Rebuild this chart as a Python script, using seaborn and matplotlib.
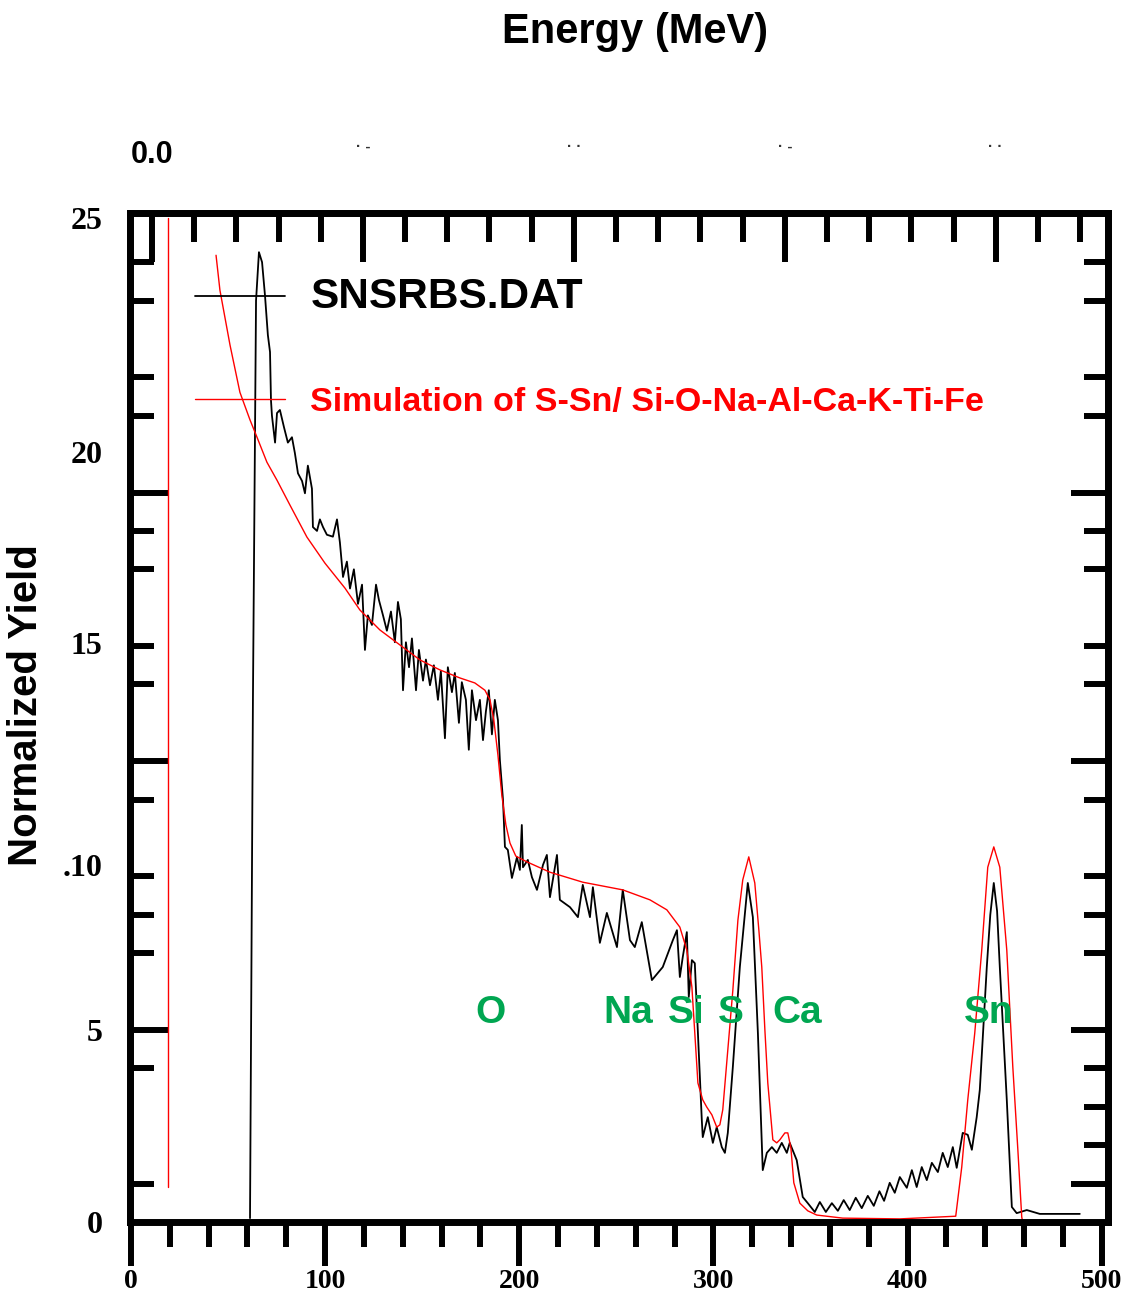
"""
RBS spectrum: measured SNSRBS.DAT vs simulation
"""
import matplotlib
matplotlib.use("Agg")
import matplotlib.pyplot as plt
import seaborn as sns
import pandas as pd

# measured spectrum (channel, normalized yield)
measured = [
    (61.3, 0.1), (62.8, 13.6), (64.4, 24.0), (65.9, 25.26), (67.5, 25.0), (69.0, 24.14),
    (70.5, 23.1), (71.6, 22.66), (72.1, 21.4), (72.6, 21.0), (74.2, 20.3), (75.2, 21.07),
    (76.7, 21.15), (78.8, 20.7), (80.8, 20.3), (82.9, 20.44), (84.4, 20.03), (86.0, 19.5),
    (88.1, 19.3), (89.6, 18.98), (91.1, 19.7), (93.2, 19.1), (93.7, 18.1), (95.8, 18.0),
    (97.3, 18.3), (98.9, 18.1), (100.9, 17.9), (104.0, 17.85), (106.1, 18.3), (107.6, 17.7),
    (109.2, 16.8), (111.2, 17.2), (112.8, 16.5), (114.8, 17.0), (116.9, 16.1), (119.0, 16.6),
    (120.5, 14.9), (122.0, 15.8), (124.1, 15.55), (126.2, 16.6), (127.7, 16.2), (129.8, 15.8),
    (131.8, 15.4), (133.9, 15.9), (135.9, 15.1), (137.5, 16.15), (139.0, 15.7), (140.1, 13.85),
    (141.6, 15.1), (143.2, 14.45), (144.7, 15.2), (146.8, 13.85), (148.3, 14.9), (150.4, 14.1),
    (151.9, 14.65), (154.0, 13.98), (156.0, 14.5), (158.1, 13.6), (159.6, 14.35), (161.7, 12.6),
    (163.2, 14.45), (165.3, 13.8), (166.8, 14.3), (168.9, 13.0), (170.4, 14.06), (172.5, 13.6),
    (174.0, 12.3), (175.6, 13.85), (177.7, 13.07), (179.7, 13.6), (181.3, 12.55), (182.8, 13.3),
    (184.3, 13.85), (185.9, 12.7), (187.4, 13.6), (189.0, 13.07), (190.0, 12.03), (191.6, 11.0),
    (192.6, 9.77), (194.1, 9.69), (196.2, 8.96), (198.8, 9.5), (200.3, 9.17), (201.3, 10.34),
    (201.9, 9.24), (204.4, 9.43), (206.5, 8.98), (209.1, 8.65), (212.2, 9.3), (214.2, 9.56),
    (215.8, 8.46), (219.4, 9.56), (220.9, 8.39), (226.1, 8.2), (230.2, 7.94), (232.7, 8.78),
    (236.4, 7.94), (237.9, 8.72), (241.5, 7.27), (245.1, 8.05), (250.3, 7.16), (253.3, 8.65),
    (257.0, 7.34), (259.5, 7.16), (263.1, 7.81), (268.3, 6.3), (273.9, 6.64), (279.1, 7.34),
    (281.2, 7.6), (282.7, 6.38), (284.2, 6.9), (286.3, 7.55), (287.3, 5.86), (288.9, 6.82),
    (290.4, 6.74), (292.0, 4.92), (294.0, 2.66), (294.5, 2.21), (297.1, 2.73), (299.7, 2.06),
    (301.7, 2.47), (304.3, 1.95), (305.9, 1.8), (307.4, 2.32), (310.0, 4.04), (313.6, 6.64),
    (317.7, 8.83), (320.3, 7.94), (322.9, 4.92), (325.4, 1.35), (327.5, 1.8), (330.1, 1.95),
    (332.6, 1.8), (335.2, 2.06), (337.8, 1.8), (339.3, 2.06), (342.9, 1.61), (346.0, 0.65),
    (348.6, 0.49), (352.2, 0.26), (354.8, 0.52), (357.9, 0.26), (361.0, 0.49), (364.1, 0.29),
    (367.1, 0.57), (370.2, 0.31), (373.3, 0.63), (376.4, 0.36), (379.5, 0.68), (382.6, 0.42),
    (385.5, 0.8), (387.9, 0.55), (390.8, 1.02), (393.4, 0.76), (396.0, 1.17), (399.6, 0.89),
    (402.2, 1.35), (404.7, 0.91), (407.3, 1.43), (409.9, 1.09), (412.5, 1.54), (415.6, 1.3),
    (418.1, 1.8), (420.7, 1.43), (423.3, 1.95), (425.3, 1.41), (428.4, 2.32), (431.0, 2.27),
    (433.1, 1.88), (435.6, 2.73), (437.2, 3.44), (440.8, 6.64), (442.6, 8.0), (444.4, 8.83),
    (446.1, 8.1), (447.5, 6.64), (451.1, 3.18), (453.7, 0.39), (456.2, 0.23), (461.4, 0.31),
    (468.1, 0.21), (488.7, 0.21),
]

# simulation S-Sn / Si-O-Na-Al-Ca-K-Ti-Fe
simulated = [
    (43.8, 25.18), (45.8, 24.27), (51.0, 22.84), (56.1, 21.61), (61.3, 20.89), (64.9, 20.44),
    (70.0, 19.79), (75.2, 19.32), (81.9, 18.67), (90.6, 17.84), (99.9, 17.16), (110.2, 16.51),
    (117.9, 15.94), (128.2, 15.42), (138.5, 15.03), (148.8, 14.64), (159.1, 14.38), (169.4, 14.17),
    (177.1, 14.04), (182.3, 13.85), (184.9, 13.6), (186.9, 13.07), (189.0, 12.16), (191.0, 11.12),
    (193.1, 10.34), (195.2, 9.87), (198.2, 9.53), (203.9, 9.38), (215.8, 9.11), (232.7, 8.85),
    (253.3, 8.65), (267.3, 8.39), (276.0, 8.13), (282.7, 7.68), (286.3, 7.08), (288.9, 6.12),
    (290.4, 4.92), (292.0, 3.62), (294.5, 3.18), (296.6, 2.99), (299.2, 2.79), (301.7, 2.47),
    (303.3, 2.53), (304.8, 2.92), (307.4, 4.48), (310.0, 6.04), (312.6, 7.86), (315.1, 8.91),
    (318.2, 9.51), (321.3, 8.83), (323.4, 7.6), (324.9, 6.64), (326.5, 5.0), (328.0, 3.62),
    (330.6, 2.14), (332.6, 2.06), (334.2, 2.14), (336.8, 2.32), (338.3, 2.32), (339.9, 1.93),
    (341.4, 1.02), (344.5, 0.49), (348.6, 0.29), (353.2, 0.18), (366.6, 0.1), (396.0, 0.08),
    (416.6, 0.13), (424.8, 0.15), (427.9, 1.43), (431.0, 3.18), (434.6, 4.92), (438.2, 7.08),
    (441.3, 9.24), (444.4, 9.77), (447.5, 9.24), (451.1, 7.08), (454.2, 4.04), (456.8, 1.88),
    (458.8, 0.13), (459.3, 0.0),
]

# vertical red marker line of the simulation window
marker_ch = [19, 19]
marker_yield = [0.9, 26.15]

element_names = ["O", "Na", "Si", "S", "Ca", "Sn"]
element_ch = [185, 256, 286, 309, 343, 442]
element_level = 5.44

ytick_labels = ["0", "5", ".10", "15", "20", "25"]
ytick_label_pos = [0.0, 5.0, 9.3, 15.08, 20.05, 26.15]
mev_labels = ["0.0", "· -\n", "· ·\n", "· -\n", "· ·\n"]
mev_ticks = [0.0, 0.5, 1.0, 1.5, 2.0]

meas = pd.DataFrame(measured, columns=["channel", "yield"])
sim = pd.DataFrame(simulated, columns=["channel", "yield"])

sns.set_style("white")
plt.rcParams["font.family"] = ["Liberation Sans", "DejaVu Sans"]
for key in ["text.color", "axes.labelcolor", "xtick.color", "ytick.color"]:
    plt.rcParams[key] = "black"

fig = plt.figure(figsize=(11.21, 12.95), dpi=100)
ax = fig.add_axes([0.116, 0.0564, 0.872, 0.7791])

sns.lineplot(data=meas, x="channel", y="yield", ax=ax, color="black", lw=1.3,
             estimator=None, sort=False, label="SNSRBS.DAT")
sns.lineplot(data=sim, x="channel", y="yield", ax=ax, color="red", lw=1.0,
             estimator=None, sort=False, label="Simulation of S-Sn/ Si-O-Na-Al-Ca-K-Ti-Fe")
sns.lineplot(x=marker_ch, y=marker_yield, ax=ax, color="red", lw=1.0,
             estimator=None, sort=False, legend=False)

for name, ch in zip(element_names, element_ch):
    ax.text(ch, element_level, name, color="#00a651", fontsize=28, fontweight="bold",
            ha="center", va="center")

ax.set_xlim(-0.5, 503)
ax.set_ylim(0, 26.28)
ax.set_xlabel("")
ax.set_ylabel("Normalized Yield", fontsize=29, fontweight="bold")
ax.yaxis.set_label_coords(-0.087, 0.512)

for sp in ax.spines.values():
    sp.set_linewidth(5)
    sp.set_color("black")

# bottom axis (channel)
ax.set_xticks(range(0, 501, 100))
ax.set_xticks(range(20, 500, 20), minor=True)
ax.tick_params(axis="x", which="major", direction="out", length=32, width=4.3,
               pad=2, labelsize=20, bottom=True, top=False)
ax.tick_params(axis="x", which="minor", direction="out", length=18, width=4.3,
               bottom=True, top=False)
for t in ax.get_xticklabels():
    t.set_fontfamily("Liberation Serif")
    t.set_fontweight("bold")

# left labels (no marks), marks drawn by secondary axes
ax.set_yticks(ytick_label_pos, ytick_labels)
ax.tick_params(axis="y", which="major", length=0, pad=20, labelsize=23,
               left=True, right=False)
for t in ax.get_yticklabels():
    t.set_fontfamily("Liberation Serif")
    t.set_fontweight("bold")

left = ax.secondary_yaxis("left")
left.set_yticks([5, 12, 19], [])
left.set_yticks([1, 4, 7, 8, 9, 11, 14, 15, 17, 18, 21, 22, 24, 25], minor=True)
left.tick_params(which="major", direction="in", length=27, width=4.3, labelleft=False)
left.tick_params(which="minor", direction="in", length=17, width=4.3)
left.spines["left"].set_linewidth(5)

right = ax.secondary_yaxis("right")
right.set_yticks([1, 5, 12, 19], [])
right.set_yticks([2, 3, 4, 7, 8, 9, 11, 14, 15, 17, 18, 21, 22, 24, 25], minor=True)
right.tick_params(which="major", direction="in", length=27, width=4.3, labelright=False)
right.tick_params(which="minor", direction="in", length=17, width=4.3)
right.spines["right"].set_linewidth(5)

# top axis (energy)
top = ax.secondary_xaxis("top", functions=(lambda c: (c - 10.8) / 217.3,
                                           lambda e: e * 217.3 + 10.8))
top.set_xticks(mev_ticks, mev_labels)
top.set_xticks([0.1 * i for i in range(1, 23) if i % 5], minor=True)
top.tick_params(which="major", direction="in", length=35, width=4.3, pad=31, labelsize=22)
top.tick_params(which="minor", direction="in", length=21, width=4.3)
top.spines["top"].set_linewidth(5)
for i, t in enumerate(top.get_xticklabels()):
    t.set_fontweight("bold")
    if i > 0:
        t.set_fontsize(11)
        t.set_color("#333333")

fig.text(635 / 1121, 1 - 32 / 1295, "Energy (MeV)", fontsize=30, fontweight="bold",
         ha="center", va="center")

leg = ax.legend(loc="upper left", bbox_to_anchor=(0.0665, 0.937), frameon=False,
                handlelength=2.64, handletextpad=0.75, labelspacing=2.06,
                borderaxespad=0, borderpad=0, labelcolor="linecolor",
                prop={"weight": "bold", "size": 24.5})
leg.get_texts()[0].set_fontsize(30.5)

fig.savefig("out.png", dpi=100)
